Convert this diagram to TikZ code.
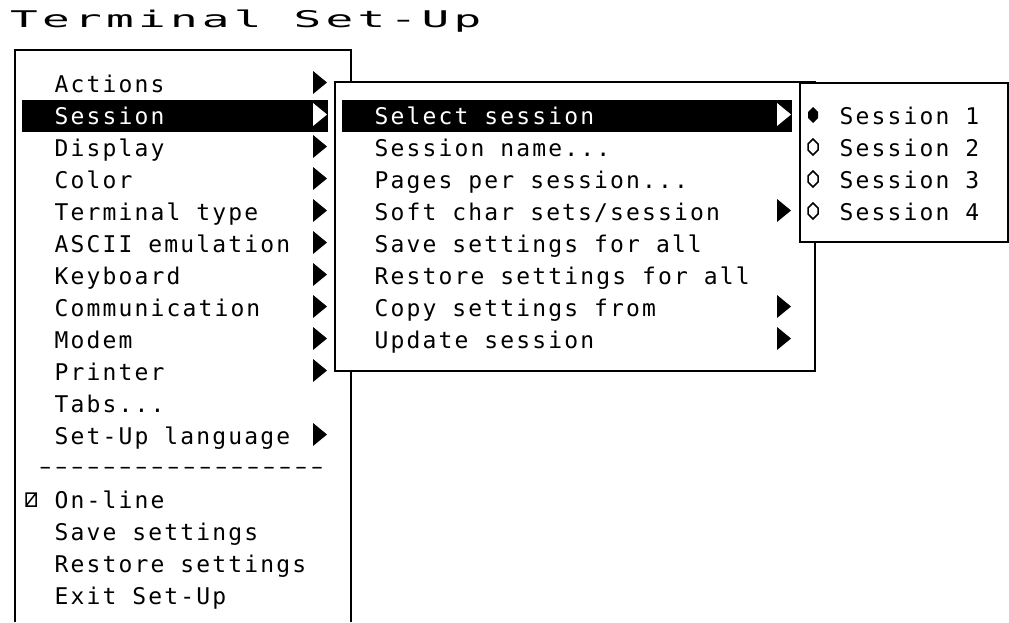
\documentclass[tikz,border=0pt]{standalone}
\usepackage{fontspec}
\newfontfamily\termfont[LetterSpace=9.3]{DejaVu Sans Mono}
\newfontfamily\strichfont[LetterSpace=19.5]{DejaVu Sans}
\newcommand\pkte{...}
\tikzset{
  txt/.style={anchor=base west, inner sep=0pt, font=\termfont\fontsize{23}{23}\selectfont},
  box/.style={draw, line width=2pt, fill=white},
  arr/.pic={\fill (0,2) -- (0,-21) -- (14,-9.5) -- cycle;},
  rad/.pic={\path[pic actions, line width=1.5pt] (0,-17) -- (5,-12) -- (5,-6) -- (0,-1) -- (-5,-6) -- (-5,-12) -- cycle;}
}
\begin{document}
\begin{tikzpicture}[x=1pt,y=-1pt]
  \useasboundingbox[fill=white] (0,0) rectangle (1009,622);

  % Titel
  \node[txt] (titel) at (10,27) {\scalebox{2}[1]{Terminal Set-Up}};

  % Hauptmenue
  \draw[line width=2pt] (15,622) -- (15,50) -- (351,50) -- (351,622);
  \fill (22,100) rectangle (328,132);
  \foreach \i/\t in {1/Actions, 3/Display, 4/Color, 5/Terminal type,
      6/ASCII emulation, 7/Keyboard, 8/Communication, 9/Modem, 10/Printer,
      11/Tabs\pkte, 12/Set-Up language, 14/On-line, 15/Save settings,
      16/Restore settings, 17/Exit Set-Up}
    \node[txt] (m\i) at (54.5,60+32*\i) {\t};
  \node[txt,white] (m2) at (54.5,124) {Session};
  \node[txt,font=\strichfont\fontsize{23}{23}\selectfont] (m13) at (39.5,474) {––––––––––––––––––};
  \foreach \i in {1,3,4,5,6,7,8,9,10,12}
    \pic at (313,60+32*\i) {arr};
  \pic[white] at (313,124) {arr};
  % Kaestchen bei On-line
  \draw[line width=1.5pt] (26,493) rectangle (36,506) (26,506) -- (36,493);

  % Untermenue Session
  \path[box] (335,82) rectangle (815,371);
  \fill (342,100) rectangle (792,132);
  \foreach \i/\t in {2/Session name\pkte, 3/Pages per session\pkte,
      4/{Soft char sets/session}, 5/Save settings for all,
      6/Restore settings for all, 7/Copy settings from, 8/Update session}
    \node[txt] (s\i) at (374.5,92+32*\i) {\t};
  \node[txt,white] (s1) at (374.5,124) {Select session};
  \foreach \i in {4,7,8}
    \pic at (777,92+32*\i) {arr};
  \pic[white] at (777,124) {arr};

  % Auswahl der Session
  \path[box] (800,83) rectangle (1008,242);
  \foreach \i in {1,...,4}
    \node[txt] (w\i) at (839.5,92+32*\i) {Session \i};
  \pic[fill] at (813,124) {rad};
  \foreach \i in {2,3,4}
    \pic[draw] at (813,92+32*\i) {rad};
\end{tikzpicture}
\end{document}
